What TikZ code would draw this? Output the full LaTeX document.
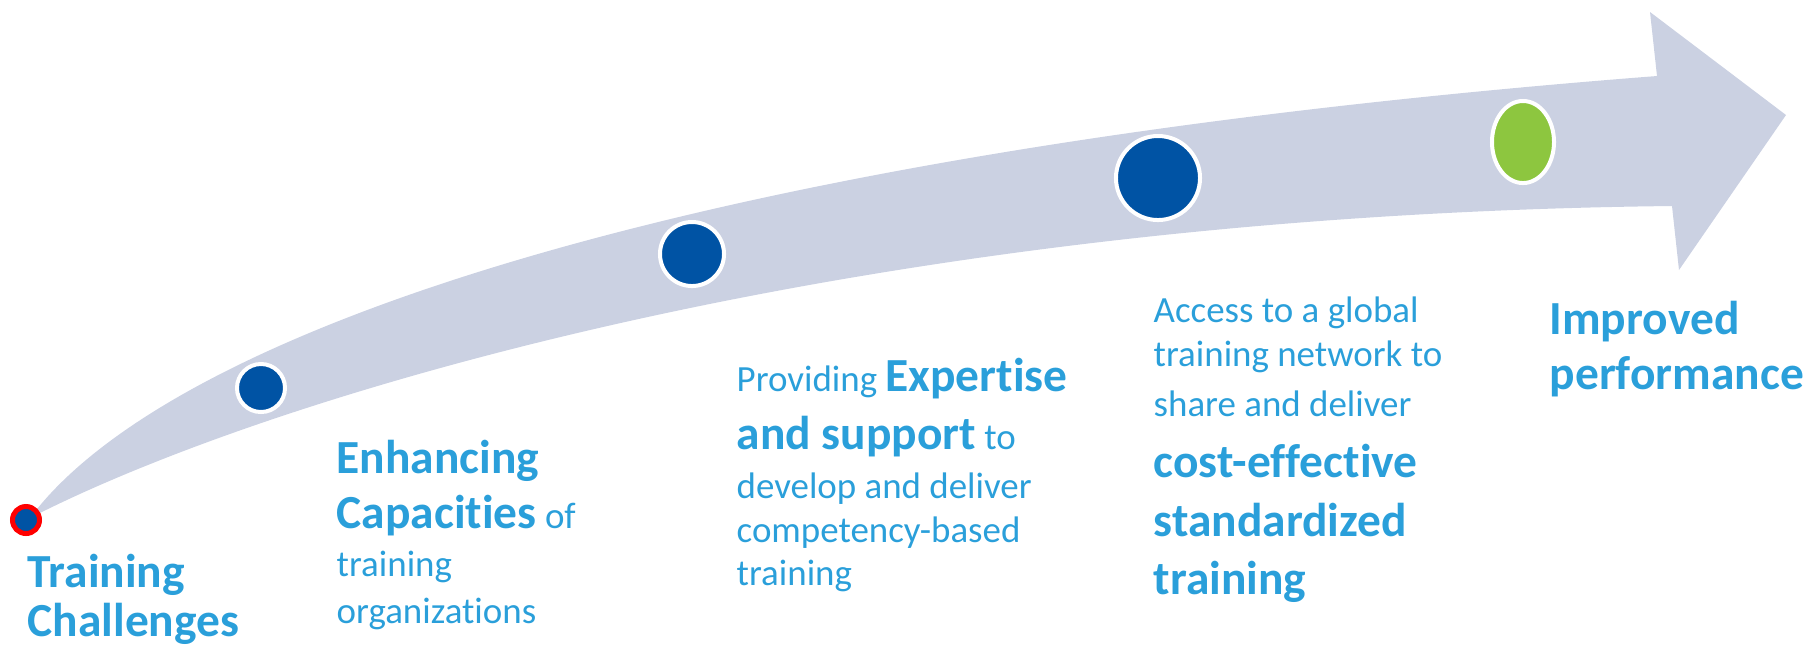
\documentclass[tikz,border=0pt]{standalone}
\usepackage{fontspec}
\setmainfont{Carlito}[Ligatures=NoCommon]
\usepackage{tikz}
\usetikzlibrary{shapes.geometric}
\definecolor{bandgray}{HTML}{CBD1E2}
\definecolor{dotblue}{HTML}{0053A4}
\definecolor{dotgreen}{HTML}{8DC63F}
\definecolor{txtblue}{HTML}{2A9FDA}
\setlength{\lineskiplimit}{-20pt}
\tikzset{
  dotStart/.style={ draw=red, line width=0.05cm, circle, fill=dotblue, inner sep=0pt, minimum size=0.27cm }
}
\tikzset{
  dotStep/.style={ draw=white, line width=0.04cm, circle, fill=dotblue, inner sep=0pt, minimum size=#1 }
}
\tikzset{
  dotGoal/.style={ draw=white, line width=0.04cm, ellipse, fill=dotgreen, inner sep=0pt, minimum width=0.62cm, minimum height=0.82cm }
}
\tikzset{
  stage/.style={ anchor=base west, inner sep=0pt, align=left, text=txtblue, font=\fontsize{10.5}{12}\selectfont }
}
\newcommand{\hl}[1]{{\fontsize{13.5}{12}\selectfont\bfseries #1}}

\begin{document}
\begin{tikzpicture}[x=0.01cm, y=-0.01cm]
  \useasboundingbox (0,0) rectangle (1808,644);
  % the bent arrow
  \fill[bandgray] (30,518) .. controls (170,330) and (700,150) .. (1657,76)
    -- (1650,12) -- (1786,115) -- (1679,270) -- (1672,206)
    .. controls (850,215) and (260,400) .. (30,518) -- cycle;

  \node[dotStart] (start) at (26,520) {};
  \node[dotStep=0.48cm] (s1) at (261,388) {};
  \node[dotStep=0.64cm] (s2) at (692,254) {};
  \node[dotStep=0.84cm] (s3) at (1158,178) {};
  \node[dotGoal] (goal) at (1523,142) {};

  % the base anchor sits on the last line
  \node[stage] (challenges) at (27,636) {\hl{Training}\\[1.7pt]\hl{Challenges}};
  \node[stage] (capacities) at (336,623) {\hl{Enhancing}\\[3.6pt]\hl{Capacities} of\\[1.9pt]training\\[1.1pt]organizations};
  \node[stage] (expertise) at (736,585) {Providing \hl{Expertise}\\[4.5pt]\hl{and support} to\\[1.7pt]develop and deliver\\[0.5pt]competency-based\\[0.2pt]training};
  \node[stage] (network) at (1153,594) {Access to a global\\[0.5pt]training network to\\[2.2pt]share and deliver\\[5.4pt]\hl{cost-effective}\\[4.5pt]\hl{standardized}\\[4.5pt]\hl{training}};
  \node[stage] (performance) at (1549,389) {\hl{Improved}\\[3.6pt]\hl{performance}};
\end{tikzpicture}
\end{document}
